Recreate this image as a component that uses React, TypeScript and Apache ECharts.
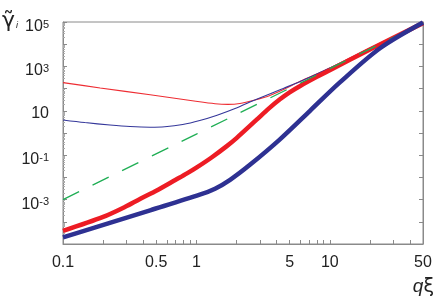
import React, { useEffect, useRef } from "react";
import * as echarts from "echarts";

// axis values
const xMin = 0.1;
const xMax = 50;
const yMin = 1e-5;
const yMax = 1e5;
const xLabelValues = [0.1, 0.5, 1, 5, 10, 50];
const yLabelValues = [1e-3, 1e-1, 10, 1e3, 1e5];

// thick red curve
const qThickRed = [0.1, 0.2, 0.3, 0.4, 0.5, 0.7, 0.85, 1, 1.3, 1.69, 2, 2.83, 3.5, 4.23, 5, 6, 8, 10, 20, 50];
const gThickRed = [3.9e-5, 1.66e-4, 5.1e-4, 1.26e-3, 2.5e-3, 7.8e-3, 0.0151, 0.0275, 0.079, 0.257, 0.59, 3.98, 12.9, 33, 68, 132, 339, 676, 5750, 89000];

// thick blue curve
const qThickBlue = [0.1, 0.19, 0.45, 1.06, 1.38, 1.79, 2.52, 4.23, 7.11, 11.9, 23.8, 50];
const gThickBlue = [2.0e-5, 6.6e-5, 3.3e-4, 1.66e-3, 3.1e-3, 7.8e-3, 0.037, 0.52, 10, 190, 6600, 95000];

// thin red curve
const qThinRed = [0.1, 0.19, 0.45, 0.99, 1.38, 1.72, 2.12, 2.75, 3.56, 4.61, 6, 10, 20, 50];
const gThinRed = [186, 107, 52.5, 26.9, 20.9, 19.5, 21.4, 30.9, 49, 98, 214, 850, 6600, 95000];

// thin blue curve
const qThinBlue = [0.1, 0.146, 0.225, 0.318, 0.45, 0.58, 0.79, 1.06, 1.43, 1.95, 2.52, 4.48, 6, 10, 20, 50];
const gThinBlue = [3.87, 2.95, 2.29, 1.95, 1.82, 1.9, 2.4, 3.63, 6.3, 12.6, 25, 102, 209, 850, 6600, 95000];

// green dashed asymptote
const qGreen = [0.1, 1, 10, 50];
const gGreen = [1e-3, 0.89, 795, 91000];

const pairs = (q: number[], g: number[]) => q.map((v, i) => [v, g[i]]);

const xTicks: number[] = [];
[0.1, 1, 10].forEach((d) => {
  for (let k = 1; k <= 9; k++) {
    const v = k * d;
    if (v <= xMax + 1e-9) xTicks.push(v);
  }
});
const yMajorTicks: number[] = [];
const yMinorTicks: number[] = [];
for (let e = -5; e <= 5; e++) {
  yMajorTicks.push(Math.pow(10, e));
  if (e < 5) for (let k = 2; k <= 9; k++) yMinorTicks.push(k * Math.pow(10, e));
}

const AXIS_COLOR = "#8a8a8a";
const FONT = "Liberation Sans, Arial, sans-serif";

export default function App() {
  const ref = useRef<HTMLDivElement>(null);
  useEffect(() => {
    if (!ref.current) return;
    const chart = echarts.init(ref.current, null, { renderer: "svg" });
    const curve = (name: string, q: number[], g: number[], color: string, width: number, type: any = "solid") => ({
      name,
      type: "line",
      data: pairs(q, g),
      showSymbol: false,
      smooth: 0.3,
      lineStyle: { color, width, type },
      xAxisIndex: 0,
      yAxisIndex: 0,
      z: 3,
    });
    chart.setOption({
      animation: false,
      grid: { left: 63, right: 13, top: 22, bottom: 54, show: true, borderColor: AXIS_COLOR, borderWidth: 1 },
      xAxis: [
        {
          type: "log",
          logBase: 10,
          min: xMin,
          max: xMax,
          position: "bottom",
          axisLine: { show: true, lineStyle: { color: AXIS_COLOR, width: 1 } },
          axisTick: { show: true, inside: true, length: 4, customValues: xTicks, lineStyle: { color: AXIS_COLOR } },
          axisLabel: {
            customValues: xLabelValues,
            margin: 9,
            fontSize: 16,
            fontFamily: FONT,
            color: "#222",
            formatter: (v: number) => String(+v.toPrecision(6)),
          },
          splitLine: { show: false },
          minorTick: { show: false },
        },
      ],
      yAxis: [
        {
          type: "log",
          logBase: 10,
          min: yMin,
          max: yMax,
          position: "left",
          axisLine: { show: true, lineStyle: { color: AXIS_COLOR, width: 1 } },
          axisTick: { show: true, inside: true, length: 4, customValues: yMajorTicks, lineStyle: { color: AXIS_COLOR } },
          axisLabel: {
            customValues: yLabelValues,
            margin: 14,
            fontFamily: FONT,
            color: "#222",
            formatter: (v: number) => {
              const e = Math.round(Math.log10(v));
              if (e === 1) return "{p|10}";
              return "{b|10}{s|" + e + "}";
            },
            rich: {
              p: { fontSize: 16, lineHeight: 16, fontFamily: FONT, color: "#222", padding: [3, 0, 0, 0] },
              b: { fontSize: 16, lineHeight: 16, fontFamily: FONT, color: "#222", padding: [7, 0, 0, 0] },
              s: { fontSize: 11, lineHeight: 11, fontFamily: FONT, color: "#222", verticalAlign: "top", padding: [4, 0, 0, 0] },
            },
          },
          splitLine: { show: false },
        },
        {
          type: "log",
          logBase: 10,
          min: yMin,
          max: yMax,
          position: "left",
          axisLine: { show: false },
          axisTick: { show: true, inside: true, length: 2, customValues: yMinorTicks, lineStyle: { color: "#aaa" } },
          axisLabel: { show: false },
          splitLine: { show: false },
        },
        {
          type: "log",
          logBase: 10,
          min: yMin,
          max: yMax,
          position: "right",
          axisLine: { show: true, lineStyle: { color: AXIS_COLOR, width: 1 } },
          axisTick: { show: true, inside: true, length: 4, customValues: yMajorTicks, lineStyle: { color: AXIS_COLOR } },
          axisLabel: { show: false },
          splitLine: { show: false },
        },
      ],
      series: [
        curve("thinRed", qThinRed, gThinRed, "#ee2d33", 1.1),
        curve("thinBlue", qThinBlue, gThinBlue, "#34379a", 1.1),
        curve("thickRed", qThickRed, gThickRed, "#ed1c24", 4.5),
        curve("green", qGreen, gGreen, "#1fae54", 1.3, [18, 15]),
        curve("thickBlue", qThickBlue, gThickBlue, "#2e3192", 4.5),
      ],
      graphic: [
        {
          type: "text",
          x: 2,
          y: 19,
          style: {
            text: "{g|γ\u0303}{i|i}",
            textAlign: "left",
            textVerticalAlign: "middle",
            rich: {
              g: { fontSize: 22, lineHeight: 26, fontFamily: "DejaVu Sans, sans-serif", fill: "#222" },
              i: { fontSize: 9, lineHeight: 9, fontStyle: "italic", fontFamily: FONT, fill: "#222", verticalAlign: "bottom", padding: [0, 0, 3, 1] },
            },
          },
        },
        {
          type: "text",
          x: 434,
          y: 285,
          style: {
            text: "{q|q}{x|ξ}",
            textAlign: "right",
            textVerticalAlign: "middle",
            rich: {
              q: { fontSize: 19, fontStyle: "italic", fontFamily: FONT, fill: "#222" },
              x: { fontSize: 19, fontFamily: "DejaVu Sans, sans-serif", fill: "#222" },
            },
          },
        },
      ],
    });
    return () => chart.dispose();
  }, []);
  return <div ref={ref} style={{ position: "fixed", left: 0, top: 0, width: 436, height: 298 }} />;
}
